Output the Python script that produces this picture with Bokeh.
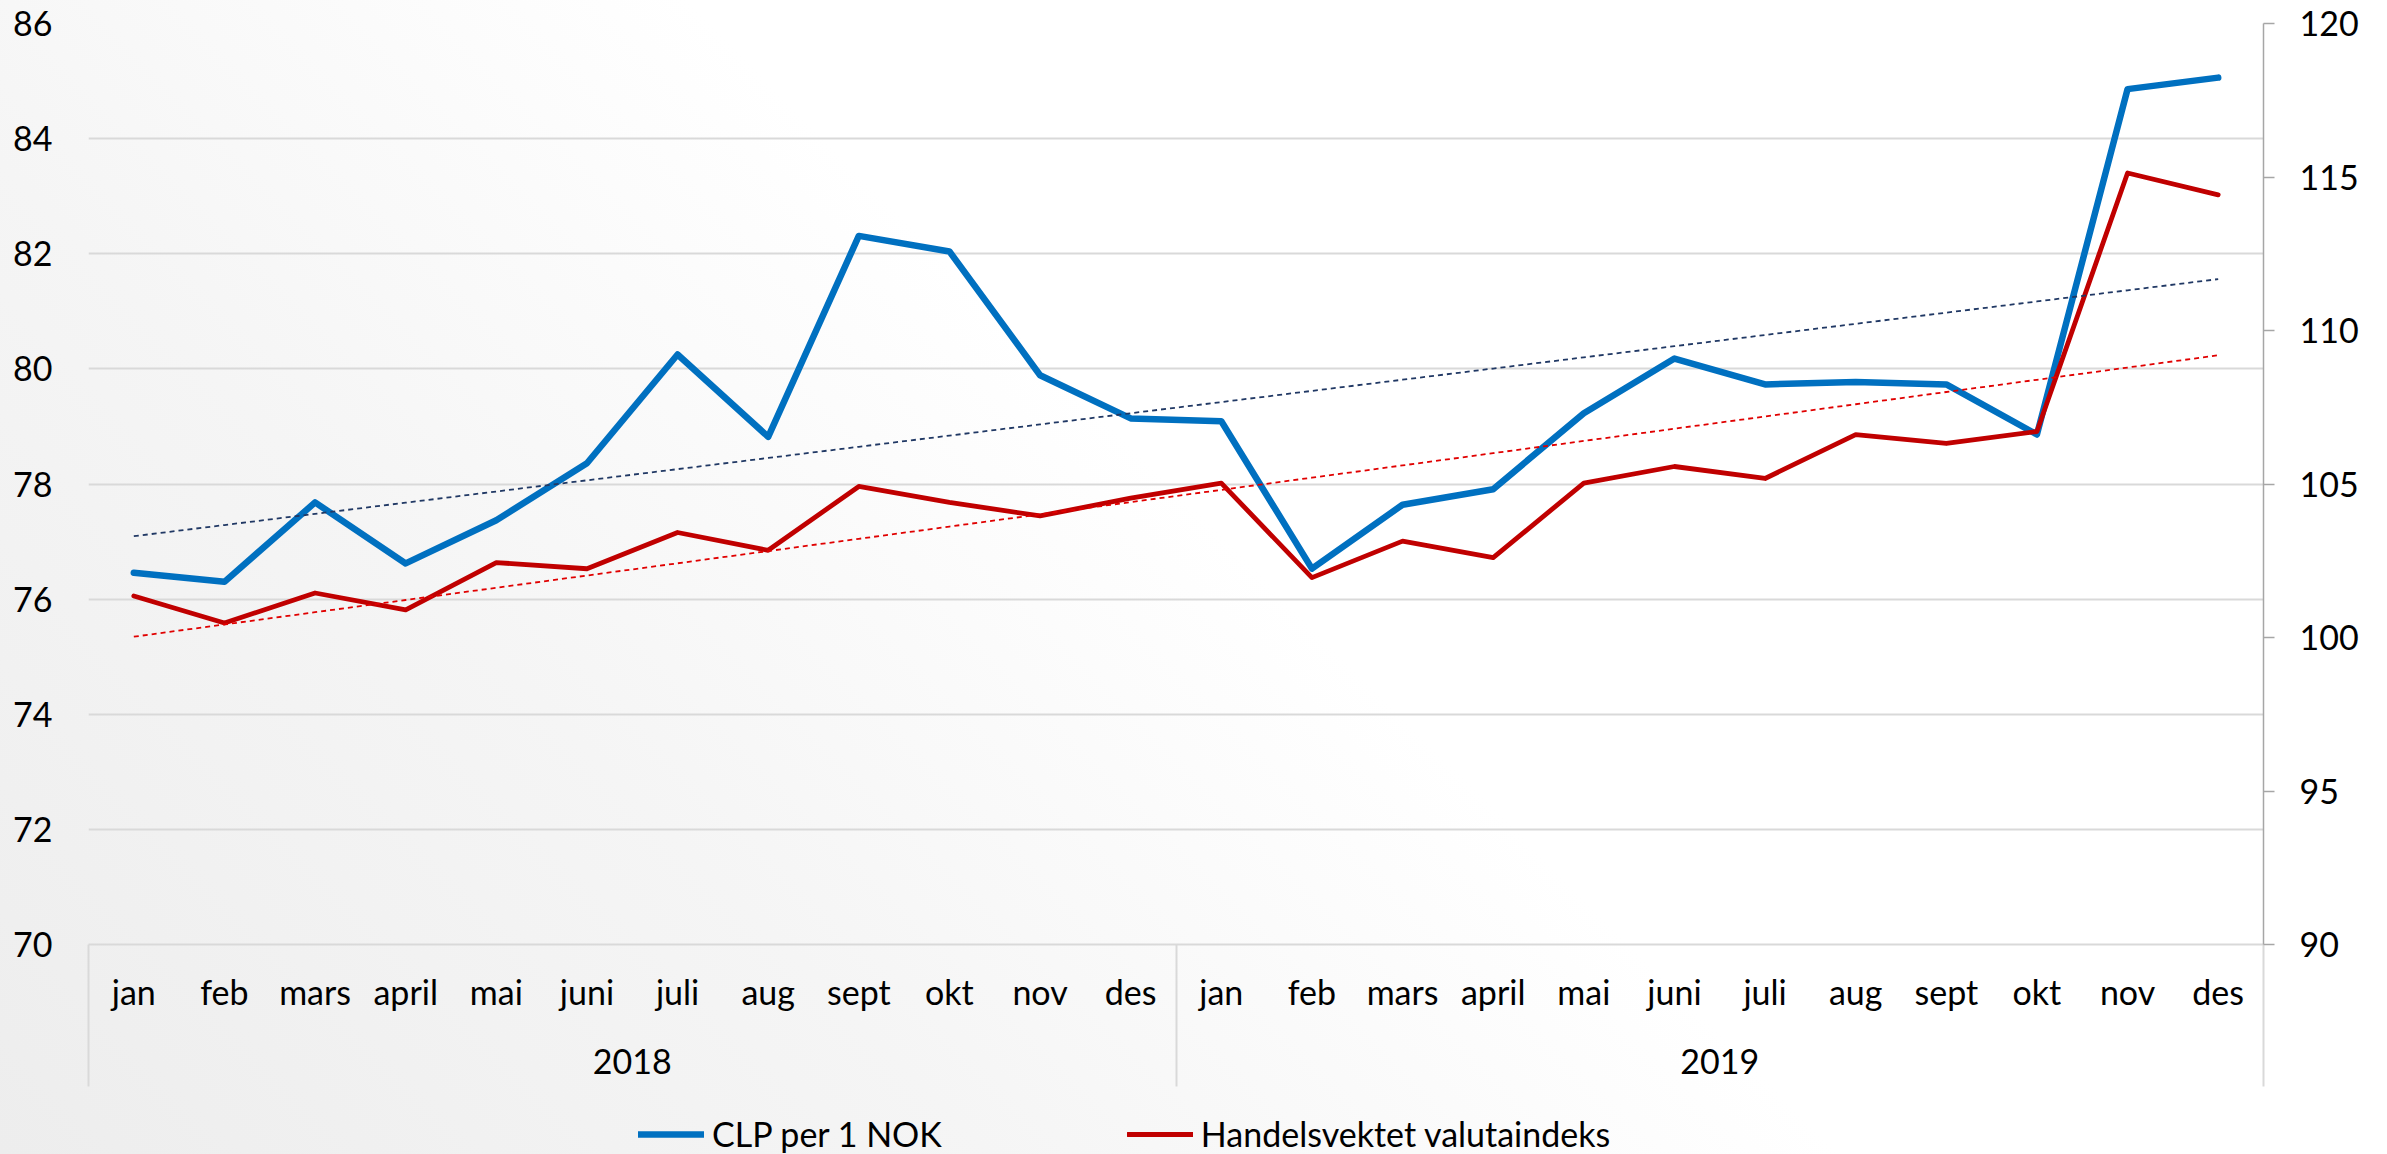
import numpy as np
from bokeh.plotting import figure
from bokeh.layouts import column
from bokeh.models import (Range1d, LinearAxis, FixedTicker, SingleIntervalTicker,
                          Legend, LegendItem, ColumnDataSource)
from bokeh.embed import file_html
from bokeh.resources import INLINE

# ---------------- data ----------------
months = ["jan", "feb", "mars", "april", "mai", "juni", "juli", "aug", "sept", "okt", "nov", "des"]
years = ["2018", "2019"]

clp_per_nok = [76.46, 76.30, 77.68, 76.62, 77.37, 78.36, 80.25, 78.82, 82.31, 82.04, 79.89, 79.14,
               79.09, 76.53, 77.64, 77.91, 79.23, 80.18, 79.73, 79.77, 79.73, 78.86, 84.86, 85.06]
handelsvektet = [101.35, 100.47, 101.45, 100.90, 102.44, 102.24, 103.42, 102.84, 104.92, 104.40, 103.96, 104.54,
                 105.03, 101.95, 103.14, 102.60, 105.03, 105.57, 105.18, 106.61, 106.32, 106.71, 115.13, 114.42]
series_names = ["CLP per 1 NOK", "Handelsvektet valutaindeks"]

left_range = (70, 86)
right_range = (90, 120)

FONT = "Lato"
FS = "34px"
BLUE, RED = "#0070c0", "#c00000"

n = len(years) * len(months)
x = np.arange(n) + 0.5
clp_trend = np.polyval(np.polyfit(x, clp_per_nok, 1), x)
hv_trend = np.polyval(np.polyfit(x, handelsvektet, 1), x)

src = ColumnDataSource(dict(x=x, clp=clp_per_nok, hv=handelsvektet, clp_tr=clp_trend, hv_tr=hv_trend))

W = 2387
H_TOTAL = 1154
H_MAIN = 1105
H_LEG = H_TOTAL - H_MAIN
FRAME_LEFT = 88
FRAME_BOTTOM = 944

p = figure(width=W, height=H_MAIN, output_backend="svg", toolbar_location=None,
           x_range=Range1d(0, n), y_range=Range1d(*left_range),
           min_border_left=FRAME_LEFT, min_border_right=124, min_border_top=23,
           min_border_bottom=H_MAIN - FRAME_BOTTOM)
p.background_fill_color = None
p.border_fill_color = None
p.outline_line_color = None

# grid
p.xgrid.visible = False
yt = SingleIntervalTicker(interval=2)
p.ygrid[0].ticker = yt
p.ygrid.grid_line_color = "#d9d9d9"
p.ygrid.grid_line_width = 2

# left axis
ay = p.yaxis[0]
ay.ticker = yt
ay.axis_line_color = None
ay.major_tick_line_color = None
ay.minor_tick_line_color = None
ay.major_tick_out = 0
ay.major_tick_in = 0
ay.minor_tick_out = 0
ay.minor_tick_in = 0
ay.major_label_standoff = 36
ay.major_label_text_font = FONT
ay.major_label_text_font_size = FS
ay.major_label_text_color = "#000000"

# right axis
p.extra_y_ranges = {"idx": Range1d(*right_range)}
ar = LinearAxis(y_range_name="idx", ticker=SingleIntervalTicker(interval=5))
ar.axis_line_color = "#a6a6a6"
ar.axis_line_width = 1.5
ar.major_tick_line_color = "#a6a6a6"
ar.major_tick_line_width = 1.5
ar.major_tick_out = 11
ar.major_tick_in = 0
ar.minor_tick_line_color = None
ar.minor_tick_out = 0
ar.minor_tick_in = 0
ar.major_label_standoff = 25
ar.major_label_text_font = FONT
ar.major_label_text_font_size = FS
ar.major_label_text_color = "#000000"
p.add_layout(ar, "right")

# bottom axis: months (+ year separators drawn as minor ticks)
ax = p.xaxis[0]
month_labels = months * len(years)
ax.ticker = FixedTicker(ticks=list(x),
                        minor_ticks=[k * len(months) for k in range(len(years) + 1)])
ax.major_label_overrides = {float(v): m for v, m in zip(x, month_labels)}
ax.axis_line_color = "#d9d9d9"
ax.axis_line_width = 2
ax.major_tick_out = 0
ax.major_tick_in = 0
ax.major_tick_line_color = None
ax.minor_tick_in = 0
ax.minor_tick_out = 142
ax.minor_tick_line_color = "#d9d9d9"
ax.minor_tick_line_width = 2
ax.major_label_standoff = -116
ax.major_label_text_font = FONT
ax.major_label_text_font_size = FS
ax.major_label_text_color = "#000000"

# bottom axis: years
year_centers = [len(months) * (j + 0.5) for j in range(len(years))]
ayr = LinearAxis(ticker=FixedTicker(ticks=year_centers))
ayr.major_label_overrides = {float(v): yv for v, yv in zip(year_centers, years)}
ayr.axis_line_color = None
ayr.major_tick_line_color = None
ayr.minor_tick_line_color = None
ayr.major_tick_out = 0
ayr.major_tick_in = 0
ayr.minor_tick_out = 0
ayr.minor_tick_in = 0
ayr.major_label_standoff = 34
ayr.major_label_text_font = FONT
ayr.major_label_text_font_size = FS
ayr.major_label_text_color = "#000000"
p.add_layout(ayr, "below")

# series
line_styles = [dict(line_color=BLUE, line_width=6.5, line_join="round", line_cap="round"),
               dict(line_color=RED, line_width=4.8, line_join="round", line_cap="round")]
p.line("x", "clp", source=src, **line_styles[0])
p.line("x", "hv", source=src, y_range_name="idx", **line_styles[1])
p.line("x", "clp_tr", source=src, line_color="#203864", line_width=1.8, line_dash="5 4")
p.line("x", "hv_tr", source=src, y_range_name="idx", line_color="#e00000", line_width=1.8, line_dash="5 4")

# legend strip below the chart (series re-drawn off-view, only their legend shows)
pl = figure(width=W, height=H_LEG, output_backend="svg", toolbar_location=None,
            x_axis_type=None, y_axis_type=None, x_range=Range1d(-2, -1), y_range=Range1d(0, 1),
            min_border=0, min_border_left=0, min_border_right=0, min_border_top=0, min_border_bottom=0)
pl.background_fill_color = None
pl.border_fill_color = None
pl.outline_line_color = None
lr1 = pl.line("x", "clp", source=src, **line_styles[0])
lr2 = pl.line("x", "hv", source=src, **line_styles[1])
legend = Legend(items=[LegendItem(label=series_names[0], renderers=[lr1]),
                       LegendItem(label=series_names[1], renderers=[lr2])],
                location=(638 - FRAME_LEFT, 0), orientation="horizontal",
                glyph_width=66, glyph_height=20, label_standoff=8, spacing=185,
                padding=0, margin=0, border_line_color=None, background_fill_alpha=0,
                label_text_font=FONT, label_text_font_size=FS, label_text_color="#000000")
pl.add_layout(legend)

layout = column(p, pl, spacing=0,
                styles={"background": "linear-gradient(45deg, #ededed 0%, #f5f5f5 28%, #ffffff 52%)"})

open("out.html", "w").write(file_html(layout, INLINE))
